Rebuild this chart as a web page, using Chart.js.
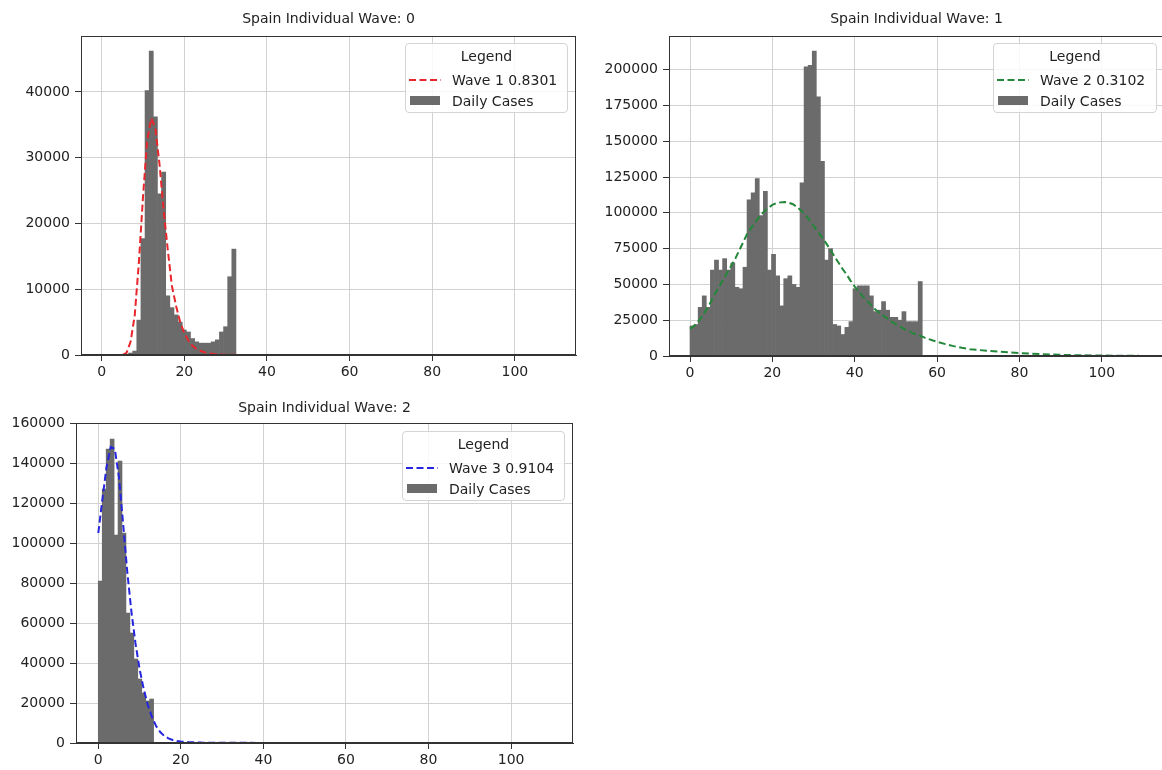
<!DOCTYPE html>
<html>
<head>
<meta charset="utf-8">
<title>Spain Individual Waves</title>
<script src="https://cdn.jsdelivr.net/npm/chart.js@4.4.1/dist/chart.umd.min.js"></script>
<style>
  body { margin: 0; background: #fff; width: 1162px; height: 770px; overflow: hidden; position: relative; font-family: "DejaVu Sans", sans-serif; }
  canvas { position: absolute; }
  .legend { position: absolute; background: rgba(255,255,255,0.85); border: 1px solid #d4d4d4; border-radius: 4px; box-sizing: border-box; font-size: 14px; color: #222; padding: 0 3px; }
  .legend .ttl { text-align: center; line-height: 25px; }
  .legend .row { display: flex; align-items: center; height: 21px; white-space: nowrap; }
  .legend svg { margin-right: 11px; }
  .legend .sw { width: 30px; height: 9px; background: #6b6b6b; margin: 0 12px 0 1px; }
</style>
</head>
<body>
<canvas id="wave0" width="577" height="385" style="left:0px;top:0px"></canvas>
<canvas id="wave1" width="577" height="386" style="left:588px;top:0px"></canvas>
<canvas id="wave2" width="574" height="384" style="left:0px;top:389px"></canvas>

<div id="leg0" class="legend" style="left:405px;top:43px;width:163px;height:70px"></div>
<div id="leg1" class="legend" style="left:993px;top:43px;width:164px;height:70px"></div>
<div id="leg2" class="legend" style="left:402px;top:431px;width:163px;height:70px"></div>

<script>
// ---- data ----
const panelTitles = ['Spain Individual Wave: 0', 'Spain Individual Wave: 1', 'Spain Individual Wave: 2'];
const fitNames = ['Wave 1', 'Wave 2', 'Wave 3'];
const fitScores = ['0.8301', '0.3102', '0.9104'];
const barLabel = 'Daily Cases';

// tick labels
const dayTicks = [0, 20, 40, 60, 80, 100];
const wave1Ticks = [0, 10000, 20000, 30000, 40000];
const wave2Ticks = [0, 25000, 50000, 75000, 100000, 125000, 150000, 175000, 200000];
const wave3Ticks = [0, 20000, 40000, 60000, 80000, 100000, 120000, 140000, 160000];

// daily cases per day of each wave
const wave1Cases = [0, 0, 0, 0, 0, 0, 0, 300, 600, 5300, 17700, 40200, 46200, 36200, 24500, 27800,
  9000, 7200, 6100, 5000, 3800, 3500, 2500, 2000, 1800, 1800, 1800, 2000, 2300, 3500, 4300, 11900, 16100];
const wave2Cases = [21000, 22000, 34000, 42000, 34000, 60000, 67000, 60000, 68000, 60000,
  65000, 48000, 47000, 62000, 109000, 114000, 124000, 98000, 115000, 60000,
  71000, 56000, 35000, 54000, 56000, 50000, 48000, 121000, 202000, 203000,
  213000, 181000, 136000, 67000, 75000, 22000, 21000, 15000, 20000, 24000,
  47000, 49000, 49000, 49000, 42000, 31000, 32000, 38000, 32000, 27000,
  27000, 25000, 31000, 24000, 24000, 24000, 52000];
const wave3Cases = [81000, 127000, 147000, 152000, 104000, 141000, 105000, 65000, 55000, 42000, 32000, 25000, 21000, 22000];

// fitted curves (day, value)
const wave1FitX = [0, 5, 6, 7, 8, 9, 10, 11, 12, 13, 14, 15, 16, 17, 18, 19, 20, 21, 22, 23, 24, 25, 26, 27, 28,
  30, 32, 35, 40, 60, 80, 100, 109];
const wave1FitY = [0, 0, 300, 2000, 6000, 14000, 24000, 32500, 36000, 34500, 29000, 22000, 16000, 10500, 7500,
  5000, 3300, 2200, 1400, 900, 600, 400, 250, 150, 100, 50, 20, 0, 0, 0, 0, 0, 0];

const wave2FitX = [0, 1, 2, 3, 4, 5, 6, 7, 8, 9, 10, 11, 12, 13, 14, 15, 16, 17, 18, 19, 20, 21, 22, 23, 24, 25,
  26, 27, 28, 29, 30, 31, 32, 33, 34, 35, 36, 37, 38, 39, 40, 41, 42, 43, 44, 45, 46, 47, 48, 49, 50, 51, 52,
  53, 54, 55, 56, 57, 58, 59, 60, 62, 64, 66, 68, 70, 75, 80, 85, 90, 95, 100, 105, 109];
const wave2FitY = [19000, 21000, 24000, 28000, 32500, 37500, 43000, 48000, 53000, 58000,
  63000, 68000, 74000, 80000, 86000, 90000, 94000, 98000, 101000, 103500,
  105500, 106800, 107300, 107500, 107000, 106000, 104000, 101500, 98500, 95000,
  91000, 87000, 83000, 79000, 74500, 70000, 65500, 61000, 57000, 52500,
  48500, 45000, 41500, 38500, 35500, 32500, 30000, 28000, 26000, 24000,
  22000, 20500, 19000, 17500, 16000, 15000, 14000, 12800, 11800, 10800, 9900,
  8300, 6900, 5700, 4700, 4200, 3000, 2000, 1300, 800, 500, 300, 150, 100];

const wave3FitX = [0, 1, 2, 3, 4, 5, 6, 7, 8, 9, 10, 11, 12, 13, 14, 15, 16, 17, 18, 19, 20, 22, 25, 30, 40, 60, 80, 109];
const wave3FitY = [105000, 122000, 138000, 148000, 147000, 133000, 110000, 86000, 66000, 50000, 37000, 27000,
  19000, 13000, 8500, 5500, 3500, 2300, 1500, 1000, 700, 400, 200, 100, 50, 0, 0, 0];

const FONT = '"DejaVu Sans", sans-serif';

// box round the plot area, like matplotlib spines
const frame = {
  id: 'frame',
  afterDraw(chart) {
    const a = chart.chartArea, c = chart.ctx;
    c.save();
    c.strokeStyle = '#333';
    c.lineWidth = 1;
    c.strokeRect(Math.round(a.left) + 0.5, Math.round(a.top) + 0.5, Math.round(a.right - a.left) - 1, Math.round(a.bottom - a.top) - 1);
    c.restore();
  }
};

function drawWave(id, cfg) {
  const n = cfg.cases.length;
  const bw = (cfg.binHi - cfg.binLo) / n;
  const bars = cfg.cases.map((v, i) => ({ x: cfg.binLo + (i + 0.5) * bw, y: v }));
  const fit = cfg.fitX.map((x, i) => ({ x: x, y: cfg.fitY[i] }));

  const tickFont = { family: FONT, size: 14 };

  return new Chart(document.getElementById(id), {
    type: 'bar',
    data: {
      datasets: [
        {
          type: 'line',
          label: cfg.fitLabel,
          data: fit,
          borderColor: cfg.color,
          borderWidth: 2,
          borderDash: [7, 3.5],
          pointRadius: 0,
          fill: false,
          tension: 0,
          order: 0,
        },
        {
          type: 'bar',
          label: barLabel,
          data: bars,
          backgroundColor: '#6b6b6b',
          borderWidth: 0,
          barPercentage: 1,
          categoryPercentage: 1,
          order: 1,
        },
      ],
    },
    options: {
      responsive: false,
      animation: false,
      layout: { padding: { left: 0, right: 1, top: 0, bottom: 0 } },
      plugins: {
        legend: { display: false },
        tooltip: { enabled: false },
        title: {
          display: true,
          text: cfg.title,
          fullSize: false,
          color: '#222',
          font: { family: FONT, size: 14, weight: 'normal' },
          padding: { top: cfg.titleTop, bottom: cfg.titleBottom },
        },
      },
      scales: {
        x: {
          type: 'linear',
          min: cfg.xMin,
          max: cfg.xMax,
          offset: false,
          z: 1,
          grid: { offset: false, color: '#d2d2d2', tickColor: '#333', tickLength: 6 },
          border: { color: '#333' },
          ticks: { autoSkip: false, color: '#222', font: tickFont, padding: 3, maxRotation: 0, callback: v => String(v) },
          afterBuildTicks: s => { s.ticks = dayTicks.map(v => ({ value: v })); },
          afterFit: s => { s.height = 30; },
        },
        y: {
          min: 0,
          max: cfg.yMax,
          z: 1,
          grid: { color: '#d2d2d2', tickColor: '#333', tickLength: 6 },
          border: { color: '#333' },
          ticks: { autoSkip: false, color: '#222', font: tickFont, padding: 5, callback: v => String(v) },
          afterBuildTicks: s => { s.ticks = cfg.yTicks.map(v => ({ value: v })); },
          afterFit: s => { s.width = cfg.yWidth; },
        },
      },
    },
    plugins: [frame],
  });
}

function fillLegend(id, name, score, color) {
  const el = document.getElementById(id);
  el.innerHTML =
    '<div class="ttl">Legend</div>' +
    '<div class="row"><svg width="32" height="10"><line x1="0" y1="5" x2="32" y2="5" stroke="' + color +
    '" stroke-width="2" stroke-dasharray="7 3.5"/></svg><span>' + name + ' ' + score + '</span></div>' +
    '<div class="row"><span class="sw"></span><span>' + barLabel + '</span></div>';
}

const fitColors = ['#e8262c', '#23873a', '#2525dd'];

drawWave('wave0', {
  title: panelTitles[0], fitLabel: fitNames[0] + ' ' + fitScores[0], color: fitColors[0],
  cases: wave1Cases, binLo: -0.5, binHi: 32.5, fitX: wave1FitX, fitY: wave1FitY,
  xMin: -5.0, xMax: 114.8,
  yMax: 48500, yTicks: wave1Ticks, yWidth: 81, titleTop: 10.6, titleBottom: 8.6,
});
drawWave('wave1', {
  title: panelTitles[1], fitLabel: fitNames[1] + ' ' + fitScores[1], color: fitColors[1],
  cases: wave2Cases, binLo: 0, binHi: 56.4, fitX: wave2FitX, fitY: wave2FitY,
  xMin: -5.1, xMax: 115.1,
  yMax: 223500, yTicks: wave2Ticks, yWidth: 81, titleTop: 10.6, titleBottom: 8.6,
});
drawWave('wave2', {
  title: panelTitles[2], fitLabel: fitNames[2] + ' ' + fitScores[2], color: fitColors[2],
  cases: wave3Cases, binLo: 0, binHi: 13.4, fitX: wave3FitX, fitY: wave3FitY,
  xMin: -5.4, xMax: 115.0,
  yMax: 160000, yTicks: wave3Ticks, yWidth: 76, titleTop: 10.6, titleBottom: 6.6,
});

fillLegend('leg0', fitNames[0], fitScores[0], fitColors[0]);
fillLegend('leg1', fitNames[1], fitScores[1], fitColors[1]);
fillLegend('leg2', fitNames[2], fitScores[2], fitColors[2]);
</script>
</body>
</html>
